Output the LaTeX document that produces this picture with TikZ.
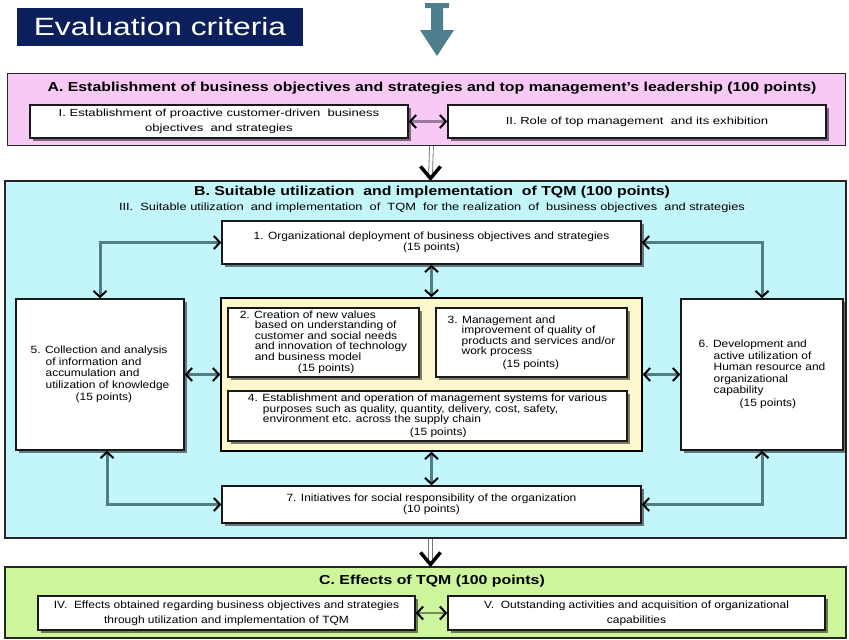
\documentclass[tikz,border=0pt]{standalone}
\usepackage{fontspec}
\setmainfont{Liberation Sans}
\newfontfamily\headfam[FakeStretch=1.22]{Liberation Sans}
\newfontfamily\boxfam[FakeStretch=1.14]{Liberation Sans}
\newfontfamily\rowAfam[FakeStretch=1.27]{Liberation Sans}
\usetikzlibrary{arrows.meta,shadows,calc}

\definecolor{navy}{HTML}{0B1F5C}
\definecolor{steel}{HTML}{4F7E8C}
\definecolor{pinkbg}{HTML}{F9C9F5}
\definecolor{cyanbg}{HTML}{C3F6FB}
\definecolor{yellowbg}{HTML}{FDF8CE}
\definecolor{greenbg}{HTML}{CDF59C}
\definecolor{linkteal}{HTML}{4F7F84}
\definecolor{linkpurple}{HTML}{9A7A9C}
\definecolor{linkgreen}{HTML}{6F8F5F}

\newcommand{\boxfont}{\boxfam\fontsize{10.5}{10.5}\selectfont}
\newcommand{\sidefont}{\boxfam\fontsize{10.5}{11.5}\selectfont}
\newcommand{\rowAfont}{\rowAfam\fontsize{10.3}{15}\selectfont}
\newcommand{\rowCfont}{\boxfam\fontsize{10.5}{15}\selectfont}
\newcommand{\headfont}{\headfam\fontsize{13}{15}\selectfont\bfseries}

\tikzset{
  vtip/.tip={Straight Barb[length=6pt,width=13pt,line width=2pt,color=black]},
  panel/.style={draw=black!85, line width=1.2pt, inner sep=0pt},
  wbox/.style={draw=black!90, line width=1.5pt, fill=white, inner sep=0pt,
    drop shadow={shadow xshift=2.5pt, shadow yshift=-2.5pt, opacity=0.5, fill=black}},
  link/.style={draw=linkteal, line width=3pt, vtip-vtip},
  rowlink/.style={line width=2.6pt, vtip-vtip},
  downshaft/.style={draw=black!55, double=white, double distance=3pt, line width=0.8pt},
  downhead/.style={draw=black, line width=3.5pt, line join=miter, line cap=butt},
}

\begin{document}
\begin{tikzpicture}[x=1pt, y=-1pt]
\useasboundingbox (0,0) rectangle (849,640);

% heading label
\node[fill=navy, text=white, minimum width=286pt, minimum height=38pt, inner sep=0pt,
      font=\rowAfam\fontsize{25}{28}\selectfont] (title) at (160,27) {Evaluation criteria};

% incoming arrow at the top
\fill[steel] (425,3) -- (449,3) -- (449,8) -- (443,8) -- (443,30) -- (454,30)
  -- (437,56) -- (420,30) -- (431,30) -- (431,8) -- (425,8) -- cycle;

% ---------------- A ----------------
\node[panel, fill=pinkbg, minimum width=838pt, minimum height=72pt] (A) at (426.5,109.5) {};
\node[font=\headfont] (atitle) at (432,88)
  {A. Establishment of business objectives and strategies and top management’s leadership (100 points)};
\node[wbox, minimum width=378pt, minimum height=33pt, align=center, font=\rowAfont] (I) at (219,121.5)
  {I. Establishment of proactive customer-driven\ \ business\\objectives\ \ and strategies};
\node[wbox, minimum width=378pt, minimum height=33pt, font=\rowAfont] (II) at (637,121.5)
  {II. Role of top management\ \ and its exhibition};
\draw[rowlink, draw=linkpurple] (I.east) -- (II.west);

% ---------------- B ----------------
\node[panel, fill=cyanbg, minimum width=841pt, minimum height=357pt] (B) at (425.5,359.5) {};
\node[font=\headfont] (btitle) at (432,192)
  {B. Suitable utilization\ \ and implementation\ \ of TQM (100 points)};
\node[font=\headfam\fontsize{10.5}{12}\selectfont] (bsub) at (432,208)
  {III.\ \ Suitable utilization\ \ and implementation\ \ of\ \ TQM\ \ for the realization\ \ of\ \ business objectives\ \ and strategies};

\node[wbox, minimum width=419pt, minimum height=43pt, align=center, font=\boxfont] (b1) at (431.5,242.5)
  {1. Organizational deployment of business objectives and strategies\\[1pt](15 points)};

\node[panel, draw=black, line width=1.5pt, fill=yellowbg, minimum width=421pt, minimum height=153pt] (yel) at (431.5,374.5) {};

\node[wbox, minimum width=191pt, minimum height=69pt, align=left, font=\boxfont] (b2) at (323.5,342.5)
  {2. Creation of new values\\
   \hspace*{15pt}based on understanding of\\
   \hspace*{15pt}customer and social needs\\
   \hspace*{15pt}and innovation of technology\\
   \hspace*{15pt}and business model\\[1pt]
   \hspace*{58pt}(15 points)};
\node[wbox, minimum width=191pt, minimum height=69pt, align=left, font=\boxfont] (b3) at (531.5,342.5)
  {3. Management and\\
   \hspace*{14pt}improvement of quality of\\
   \hspace*{14pt}products and services and/or\\
   \hspace*{14pt}work process\\[2pt]
   \hspace*{55pt}(15 points)};
\node[wbox, minimum width=399pt, minimum height=50pt, align=left, font=\boxfont] (b4) at (427.5,416)
  {4. Establishment and operation of management systems for various\\
   \hspace*{15pt}purposes such as quality, quantity, delivery, cost, safety,\\
   \hspace*{15pt}environment etc. across the supply chain\\[2pt]
   \hspace*{162pt}(15 points)};

\node[wbox, minimum width=168pt, minimum height=151pt, align=left, font=\sidefont] (b5) at (100,374.5)
  {5. Collection and analysis\\
   \hspace*{15pt}of information and\\
   \hspace*{15pt}accumulation and\\
   \hspace*{15pt}utilization of knowledge\\[1pt]
   \hspace*{45pt}(15 points)};
\node[wbox, minimum width=162pt, minimum height=151pt, align=left, font=\sidefont] (b6) at (762,374.5)
  {6. Development and\\
   \hspace*{15pt}active utilization of\\
   \hspace*{15pt}Human resource and\\
   \hspace*{15pt}organizational\\
   \hspace*{15pt}capability\\[1pt]
   \hspace*{41pt}(15 points)};

\node[wbox, minimum width=419pt, minimum height=37pt, align=center, font=\boxfont] (b7) at (431.5,504.5)
  {7. Initiatives for social responsibility of the organization\\[1pt](10 points)};

% links inside B
\draw[link] (b1.west) -| (b5.north);
\draw[link] (b1.east) -| (b6.north);
\draw[link] (b7.west) -| ([xshift=7pt]b5.south);
\draw[link] (b7.east) -| (b6.south);
\draw[link] (b1.south) -- (yel.north);
\draw[link] (yel.south) -- (b7.north);
\draw[link] (b5.east) -- (yel.west);
\draw[link] (yel.east) -- (b6.west);

% ---------------- C ----------------
\node[panel, fill=greenbg, minimum width=841pt, minimum height=71pt] (C) at (425.5,602.5) {};
\node[font=\headfont] (ctitle) at (432,581) {C. Effects of TQM (100 points)};
\node[wbox, minimum width=377pt, minimum height=34pt, align=center, font=\rowCfont] (IV) at (226.5,613)
  {IV.\ \ Effects obtained regarding business objectives and strategies\\through utilization and implementation of TQM};
\node[wbox, minimum width=377pt, minimum height=34pt, align=center, font=\rowCfont] (V) at (636.5,613)
  {V.\ \ Outstanding activities and acquisition of organizational\\capabilities};
\draw[rowlink, draw=linkgreen] (IV.east) -- (V.west);

% flow between the three panels
\coordinate (abtop) at ([xshift=5pt]A.south);
\coordinate (abend) at ([xshift=5pt]B.north);
\draw[downshaft] (abtop) -- ([yshift=4pt]abend);
\draw[downhead] ([shift={(-10,-14)}]abend) -- ([yshift=2pt]abend) -- ([shift={(10,-14)}]abend);

\coordinate (bctop) at ([xshift=5pt]B.south);
\coordinate (bcend) at ([xshift=5pt]C.north);
\draw[downshaft] (bctop) -- ([yshift=4pt]bcend);
\draw[downhead] ([shift={(-10,-14)}]bcend) -- ([yshift=2pt]bcend) -- ([shift={(10,-14)}]bcend);
\end{tikzpicture}
\end{document}
